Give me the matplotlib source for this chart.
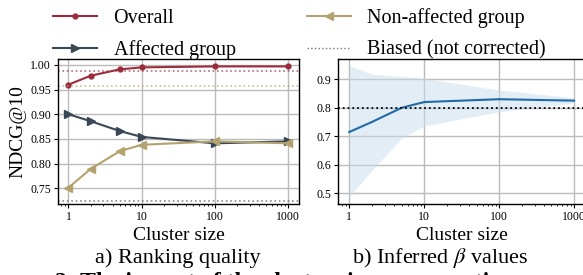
import numpy as np
import matplotlib.pyplot as plt

plt.rcParams['font.family'] = ['Liberation Serif', 'DejaVu Serif']
plt.rcParams['mathtext.fontset'] = 'stix'

# --- data ---
cluster = [1, 2, 5, 10, 100, 1000]
overall = [0.960, 0.978, 0.991, 0.995, 0.997, 0.997]
affected = [0.900, 0.886, 0.866, 0.854, 0.841, 0.845]
non_affected = [0.751, 0.789, 0.825, 0.838, 0.845, 0.841]
biased_overall = 0.988
biased_non_affected = 0.958
biased_affected = 0.725

beta_mean = [0.715, 0.750, 0.800, 0.820, 0.830, 0.825]
beta_low = [0.488, 0.580, 0.693, 0.736, 0.786, 0.816]
beta_high = [0.948, 0.918, 0.910, 0.903, 0.862, 0.835]
beta_true = 0.8

c_over = '#9b2c3c'
c_aff = '#3a4856'
c_non = '#b4a26e'
c_blue = '#1f6aa8'

fig = plt.figure(figsize=(5.83, 2.75), dpi=100)
W, H = 583, 275
ax1 = fig.add_axes([58 / W, 1 - 204 / H, (299 - 58) / W, (204 - 59) / H])
ax2 = fig.add_axes([338 / W, 1 - 204 / H, (585 - 338) / W, (204 - 59) / H])

# --- a) ranking quality ---
l1, = ax1.plot(cluster, overall, color=c_over, marker='o', markersize=3.5, lw=1.5, label='Overall')
l2, = ax1.plot(cluster, affected, color=c_aff, marker='>', markersize=6, lw=1.5, label='Affected group')
l3, = ax1.plot(cluster, non_affected, color=c_non, marker='<', markersize=6, lw=1.5, label='Non-affected group')
ax1.axhline(biased_overall, color=c_over, ls=':', lw=1.2, alpha=0.7)
ax1.axhline(biased_non_affected, color=c_non, ls=':', lw=1.2, alpha=0.7)
ax1.axhline(biased_affected, color='#6a6f78', ls=':', lw=1.2, alpha=0.8)
l4, = ax1.plot([], [], color='#777777', ls=':', lw=1, label='Biased (not corrected)')

ax1.set_xscale('log')
ax1.set_xlim(0.72, 1400)
ax1.set_ylim(0.718, 1.012)
ax1.set_xticks([1, 10, 100, 1000])
ax1.set_xticklabels(['1', '10', '100', '1000'])
ax1.set_yticks([0.75, 0.80, 0.85, 0.90, 0.95, 1.00])
ax1.set_yticklabels(['0.75', '0.80', '0.85', '0.90', '0.95', '1.00'])
ax1.set_ylabel('NDCG@10', fontsize=14, labelpad=3)
ax1.set_xlabel('Cluster size', fontsize=14, labelpad=3)

# --- b) inferred beta ---
ax2.fill_between(cluster, beta_low, beta_high, color='#c9dcee', alpha=0.5, lw=0)
ax2.plot(cluster, beta_mean, color=c_blue, lw=1.5)
ax2.axhline(beta_true, color='black', ls=':', lw=1.3)
ax2.set_xscale('log')
ax2.set_xlim(0.707, 1400)
ax2.set_ylim(0.4625, 0.971)
ax2.set_xticks([1, 10, 100, 1000])
ax2.set_xticklabels(['1', '10', '100', '1000'])
ax2.set_yticks([0.5, 0.6, 0.7, 0.8, 0.9])
ax2.set_xlabel('Cluster size', fontsize=14, labelpad=3)

for ax in (ax1, ax2):
    ax.grid(True, which='major', color='#bbbbbb', lw=1)
    ax.set_axisbelow(True)
    ax.tick_params(labelsize=8.5, length=3, pad=2)
    ax.tick_params(axis='x', which='minor', length=1.5)
    for s in ax.spines.values():
        s.set_color('black')
        s.set_linewidth(1)

fig.legend(handles=[l1, l2, l3, l4], loc='upper left', bbox_to_anchor=(35 / W, 1.035),
           ncol=2, frameon=False, fontsize=14.5, handlelength=2.2, handletextpad=0.8,
           columnspacing=3.55, labelspacing=0.6)

fig.text(178 / W, 1 - 258 / H, 'a) Ranking quality', ha='center', va='center', fontsize=16)
fig.text(440 / W, 1 - 258 / H, r'b) Inferred $\beta$ values', ha='center', va='center', fontsize=16)
fig.text(55 / W, 1 - 272 / H, '2: The impact of the cluster size on correction', ha='left',
         va='top', fontsize=17, fontweight='bold')

fig.savefig('out.png', dpi=100)
